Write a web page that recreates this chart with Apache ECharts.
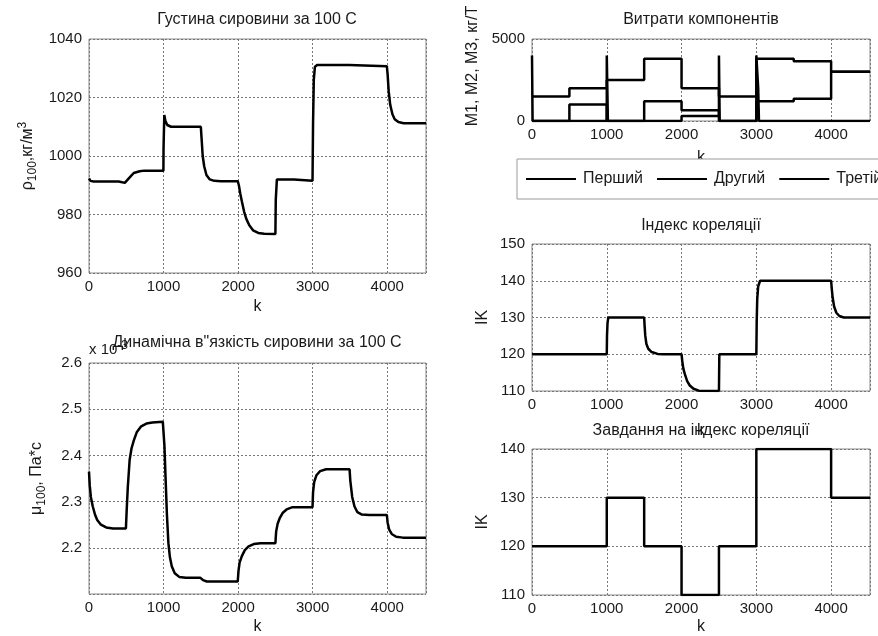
<!DOCTYPE html>
<html>
<head>
<meta charset="utf-8">
<script src="https://cdn.jsdelivr.net/npm/echarts@6/dist/echarts.min.js"></script>
<style>
  html, body { margin: 0; padding: 0; background: #fff; }
  #chart { width: 878px; height: 636px; }
</style>
</head>
<body>
<div id="chart"></div>
<script>
const kMax = 4520;

// густина сировини, [k, кг/м3]
const densityPts = [
  [0, 992.3], [20, 991.5], [60, 991.3], [400, 991.3], [420, 990.8], [480, 990.8],
  [500, 991.4], [540, 992.5], [600, 994.2], [680, 994.8], [740, 995.0], [998, 995.0],
  [1000, 1003], [1010, 1014], [1025, 1012], [1050, 1010.6], [1100, 1010], [1500, 1010],
  [1510, 1006], [1525, 1000], [1545, 996.5], [1575, 993.5], [1620, 992.0], [1680, 991.5],
  [1770, 991.4], [1995, 991.4],
  [2010, 990], [2030, 987], [2050, 984.5], [2080, 981], [2110, 978.5], [2150, 976.3],
  [2200, 974.6], [2270, 973.7], [2350, 973.4], [2500, 973.3],
  [2505, 985], [2520, 992.0], [2750, 992.0], [2770, 991.5], [2998, 991.5],
  [3005, 1011], [3015, 1026], [3030, 1030.5], [3060, 1031.1], [3490, 1031.1], [3510, 1030.7],
  [3995, 1030.7], [4005, 1028], [4020, 1022], [4040, 1017.5], [4070, 1014.3], [4100, 1012.6],
  [4150, 1011.6], [4220, 1011.2], [4520, 1011.2]
];

// в'язкість, [k, x10^-3 Па*с]
const viscosityPts = [
  [0, 2.365], [10, 2.335], [25, 2.31], [50, 2.29], [80, 2.272], [110, 2.26], [160, 2.25],
  [230, 2.244], [320, 2.242], [495, 2.242],
  [505, 2.28], [520, 2.33], [545, 2.39], [570, 2.415], [600, 2.432], [640, 2.45], [700, 2.463],
  [770, 2.469], [850, 2.471], [990, 2.473],
  [1000, 2.47], [1012, 2.42], [1025, 2.36], [1045, 2.272], [1065, 2.21], [1085, 2.18],
  [1110, 2.16], [1150, 2.145], [1210, 2.137], [1300, 2.135], [1495, 2.135], [1530, 2.130],
  [1580, 2.127], [1995, 2.127],
  [2005, 2.15], [2020, 2.168], [2050, 2.182], [2090, 2.195], [2140, 2.203], [2210, 2.208],
  [2300, 2.21], [2500, 2.21],
  [2510, 2.235], [2530, 2.252], [2560, 2.265], [2600, 2.276], [2650, 2.283], [2730, 2.288],
  [2998, 2.288],
  [3005, 2.32], [3020, 2.342], [3050, 2.357], [3100, 2.366], [3180, 2.37], [3495, 2.37],
  [3505, 2.345], [3530, 2.31], [3560, 2.29], [3600, 2.277], [3660, 2.272], [3760, 2.271],
  [3995, 2.271],
  [4005, 2.255], [4025, 2.24], [4060, 2.23], [4120, 2.224], [4210, 2.222], [4520, 2.222]
];

// індекс кореляції (відгук)
const ikPts = [
  [0, 120], [1000, 120], [1003, 125], [1010, 128.5], [1020, 130], [1500, 130],
  [1505, 128], [1515, 125], [1530, 122.8], [1555, 121.5], [1600, 120.6], [1680, 120.1],
  [1760, 120], [2000, 120],
  [2010, 118], [2025, 116], [2045, 114.5], [2075, 112.7], [2110, 111.5], [2160, 110.6],
  [2230, 110.1], [2500, 110], [2505, 120], [3000, 120],
  [3005, 129], [3012, 135], [3025, 138.5], [3050, 140], [4000, 140],
  [4008, 138], [4020, 135.5], [4040, 133], [4070, 131.3], [4110, 130.4], [4170, 130], [4520, 130]
];

// завдання (сходинки)
const taskK = [0, 1000, 1500, 2000, 2500, 3000, 4000, 4520];
const taskIK = [120, 130, 120, 110, 120, 140, 130, 130];

// витрати компонентів
const compK = [0, 500, 1000, 1500, 2000, 2500, 3000, 3500, 4000, 4520];
const compFirst = [1500, 2000, 2500, 3800, 2000, 1500, 3800, 3650, 3000, 3000];
const compSecond = [0, 1000, 0, 1200, 650, 0, 1200, 1350, 3000, 3000];
const compThird = [
  [0, 4000], [8, 0], [1000, 4000], [1015, 0], [2000, 300], [2500, 4000], [2510, 0],
  [3000, 4000], [3025, 2000], [3035, 0], [4520, 0]
];

const legendNames = ['Перший', 'Другий', 'Третій'];

const FONT = 'Liberation Sans, Arial, sans-serif';
const INK = '#1a1a1a';

const chart = echarts.init(document.getElementById('chart'));

const plain = v => String(v);

function xAx(gi, gap) {
  return {
    gridIndex: gi, type: 'value', min: 0, max: kMax, interval: 1000,
    name: 'k', nameLocation: 'middle', nameGap: gap,
    nameTextStyle: { fontSize: 16, color: INK, fontFamily: FONT },
    axisLine: { show: false }, axisTick: { show: false },
    axisLabel: { fontSize: 15, color: INK, margin: 6, showMaxLabel: false, fontFamily: FONT, formatter: plain },
    splitLine: { show: true, lineStyle: { color: '#777', type: [2, 2], width: 1 } }
  };
}

function yAx(gi, min, max, step, extra) {
  return Object.assign({
    gridIndex: gi, type: 'value', min: min, max: max, interval: step,
    axisLine: { show: false }, axisTick: { show: false },
    axisLabel: { fontSize: 15, color: INK, margin: 7, fontFamily: FONT, formatter: plain },
    splitLine: { show: true, lineStyle: { color: '#777', type: [2, 2], width: 1 } },
    nameLocation: 'middle', nameRotate: 90,
    nameTextStyle: {
      fontSize: 16, color: INK, fontFamily: FONT,
      rich: {
        b: { fontSize: 16, color: INK, fontFamily: FONT, lineHeight: 22, verticalAlign: 'middle' },
        sub: { fontSize: 12, color: INK, fontFamily: FONT, verticalAlign: 'bottom', lineHeight: 22 },
        sup: { fontSize: 12, color: INK, fontFamily: FONT, verticalAlign: 'top', lineHeight: 22 }
      }
    }
  }, extra);
}

const lineBase = { type: 'line', symbol: 'none', showSymbol: false, animation: false,
  lineStyle: { color: '#000', width: 2.5 }, itemStyle: { color: '#000' } };

function titleText(x, y, text) {
  return { type: 'text', x: x, y: y, silent: true,
    style: { text: text, font: '16px ' + FONT, fill: INK, textAlign: 'center', textVerticalAlign: 'middle' } };
}

const option = {
  animation: false,
  backgroundColor: '#fff',
  textStyle: { fontFamily: FONT },
  grid: [
    { left: 89, top: 39, width: 337, height: 234 },
    { left: 89, top: 363, width: 337, height: 234 },
    { left: 532, top: 39, width: 338, height: 82 },
    { left: 532, top: 244, width: 338, height: 147 },
    { left: 532, top: 449, width: 338, height: 148 }
  ].map(g => Object.assign(g, { show: true, borderColor: '#8a8a8a', borderWidth: 1, backgroundColor: '#fff' })),
  xAxis: [xAx(0, 26), xAx(1, 25), xAx(2, 29), xAx(3, 32), xAx(4, 24)],
  yAxis: [
    yAx(0, 960, 1040, 20, { name: '{b|ρ}{sub|100}{b|,кг/м}{sup|3}', nameGap: 50 }),
    yAx(1, 2.1, 2.6, 0.1, { name: '{b|μ}{sub|100}{b|, Па*с}', nameGap: 41,
      axisLabel: { fontSize: 15, color: INK, margin: 7, fontFamily: FONT, showMinLabel: false,
        formatter: v => v.toFixed(1) } }),
    yAx(2, 0, 5000, 5000, {}),
    yAx(3, 110, 150, 10, { name: 'IK', nameGap: 41 }),
    yAx(4, 110, 140, 10, { name: 'IK', nameGap: 41 })
  ],
  legend: {
    data: legendNames,
    left: 517, top: 159, width: 700,
    orient: 'horizontal',
    icon: 'rect',
    itemWidth: 50, itemHeight: 2, itemGap: 14,
    padding: [11, 40, 11, 9],
    borderColor: '#9a9a9a', borderWidth: 1, backgroundColor: '#fff',
    textStyle: { fontSize: 16, color: INK, fontFamily: FONT, lineHeight: 18, padding: [0, 0, 0, 2] }
  },
  series: [
    Object.assign({}, lineBase, { xAxisIndex: 0, yAxisIndex: 0, data: densityPts }),
    Object.assign({}, lineBase, { xAxisIndex: 1, yAxisIndex: 1, data: viscosityPts }),
    Object.assign({}, lineBase, { name: legendNames[0], xAxisIndex: 2, yAxisIndex: 2, step: 'end',
      data: compK.map((k, i) => [k, compFirst[i]]) }),
    Object.assign({}, lineBase, { name: legendNames[1], xAxisIndex: 2, yAxisIndex: 2, step: 'end',
      data: compK.map((k, i) => [k, compSecond[i]]) }),
    Object.assign({}, lineBase, { name: legendNames[2], xAxisIndex: 2, yAxisIndex: 2, step: 'end',
      data: compThird }),
    Object.assign({}, lineBase, { xAxisIndex: 3, yAxisIndex: 3, data: ikPts }),
    Object.assign({}, lineBase, { xAxisIndex: 4, yAxisIndex: 4, step: 'end',
      data: taskK.map((k, i) => [k, taskIK[i]]) })
  ],
  graphic: [
    titleText(257, 20, 'Густина сировини за 100 С'),
    titleText(257, 343, 'Динамічна в"язкість сировини за 100 С'),
    titleText(701, 20, 'Витрати компонентів'),
    titleText(701, 226, 'Індекс кореляції'),
    titleText(701, 431, 'Завдання на індекс кореляції'),
    { type: 'text', x: 89, y: 350, silent: true,
      style: { text: 'x 10{sup|-3}', font: '15px ' + FONT, fill: INK, textVerticalAlign: 'middle',
        rich: { sup: { fontSize: 12, fill: INK, verticalAlign: 'top', lineHeight: 20 } } } },
    { type: 'text', x: 473, y: 66, rotation: Math.PI / 2, silent: true,
      style: { text: 'M1, M2, M3, кг/Т', font: '16px ' + FONT, fill: INK,
        textAlign: 'center', textVerticalAlign: 'middle' } }
  ]
};

chart.setOption(option);
</script>
</body>
</html>
